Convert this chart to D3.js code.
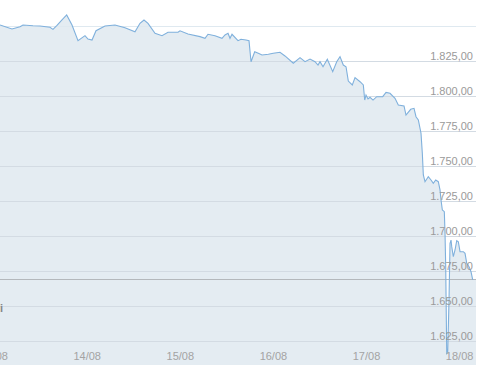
<!DOCTYPE html>
<html>
<head>
<meta charset="utf-8">
<script src="https://cdn.jsdelivr.net/npm/d3@7"></script>
<style>
  body { margin: 0; background: #fff; }
  svg { display: block; font-family: "Liberation Sans", Arial, sans-serif; }
</style>
</head>
<body>
<div id="chart"></div>
<script>
// hours since 13/08 00:00 and the price read at that hour
var hours = [1.65, 4.74, 6.81, 7.58, 10.16, 11.96, 14.54, 15.31, 16.34, 17.63, 18.84, 20.21, 21.76, 23.56, 24.33, 25.37,
  26.40, 28.72, 31.30, 33.87, 36.45, 37.74, 38.77, 39.80, 41.61, 43.41, 44.96, 47.54, 48.05, 50.11, 53.21, 54.50,
  55.27, 57.07, 58.88, 59.65, 60.43, 60.94, 61.46, 63.00, 63.78, 65.07, 65.84, 66.36, 67.31, 68.24, 69.19, 70.82,
  72.10, 73.83, 75.12, 77.26, 78.99, 80.28, 81.57, 82.86, 83.63, 84.14, 84.92, 86.03, 87.42, 88.45, 89.30, 90.15,
  90.85, 91.44, 92.47, 93.17, 94.46, 95.31, 95.67, 96.00, 96.52, 97.03, 97.81, 98.76, 100.31, 101.16, 102.19, 103.48,
  104.33, 105.80, 106.31, 107.52, 108.38, 108.89, 109.49, 110.18, 110.52, 110.78, 111.21, 112.06, 112.76, 113.35, 113.97, 114.64,
  115.08, 115.34, 115.68, 116.19, 116.37, 116.55, 116.81, 117.07, 117.40, 117.66, 117.92, 118.10, 118.51, 118.95, 119.39, 119.80,
  120.24, 121.09, 121.53, 121.97, 122.56, 123.07, 123.51];
var prices = [1850.7, 1847.9, 1849.5, 1850.7, 1850.2, 1850.0, 1849.1, 1847.6, 1850.5, 1854.3, 1857.9, 1850.7, 1839.5, 1843.1, 1840.7, 1840.0,
  1846.6, 1850.0, 1850.7, 1848.8, 1845.9, 1851.9, 1854.3, 1851.9, 1844.8, 1843.1, 1845.5, 1845.5, 1846.6, 1844.3, 1842.4, 1841.2,
  1844.1, 1843.1, 1841.2, 1843.6, 1844.8, 1841.2, 1844.1, 1839.5, 1840.5, 1840.0, 1839.5, 1824.5, 1831.6, 1830.5, 1829.3, 1829.8,
  1830.5, 1831.2, 1828.6, 1823.4, 1827.4, 1824.5, 1826.4, 1824.5, 1822.1, 1824.5, 1820.9, 1826.2, 1817.4, 1824.5, 1828.1, 1822.1,
  1820.9, 1810.7, 1807.9, 1813.1, 1810.2, 1807.9, 1797.1, 1800.7, 1797.9, 1799.1, 1797.1, 1799.5, 1799.5, 1802.6, 1801.9, 1798.4,
  1793.6, 1792.9, 1786.4, 1790.5, 1791.2, 1785.2, 1782.9, 1773.4, 1759.1, 1743.6, 1738.8, 1742.4, 1740.0, 1737.6, 1740.0, 1738.8,
  1732.9, 1725.7, 1718.6, 1717.4, 1701.9, 1678.1, 1616.2, 1617.4, 1654.3, 1694.8, 1697.1, 1692.4, 1685.2, 1690.0, 1696.6, 1695.9,
  1688.8, 1688.8, 1687.6, 1680.5, 1678.1, 1674.5, 1668.6];

var dayLabels = ["13/08", "14/08", "15/08", "16/08", "17/08", "18/08"];
var priceTicks = [1625, 1650, 1675, 1700, 1725, 1750, 1775, 1800, 1825];
var gridValues = [1625, 1650, 1675, 1700, 1725, 1750, 1775, 1800, 1825, 1850];

var width = 490, height = 377;
var plotRight = 476, plotTop = 26, plotBottom = 365;

var start = new Date(2021, 7, 13);
function hourToDate(h) { return new Date(start.getTime() + h * 3600000); }

var data = hours.map(function(h, i) { return {date: hourToDate(h), price: prices[i]}; });
var dayDates = dayLabels.map(function(d, i) { return hourToDate(24 * i); });

var x = d3.scaleTime()
  .domain([dayDates[0], dayDates[5]])
  .range([-6.4, 459.1]);

var y = d3.scaleLinear()
  .domain([1850 - (plotBottom - plotTop) / 1.4, 1850])
  .range([plotBottom, plotTop]);

var locale = d3.formatLocale({decimal: ",", thousands: ".", grouping: [3], currency: ["", ""]});
var fmt = locale.format(",.2f");

var svg = d3.select("#chart").append("svg")
  .attr("width", width)
  .attr("height", height);

// area under the line
var area = d3.area()
  .x(function(d) { return x(d.date); })
  .y0(plotBottom)
  .y1(function(d) { return y(d.price); });

var areaData = data.concat([{date: x.invert(plotRight), price: prices[prices.length - 1]}]);
areaData.unshift({date: x.invert(0), price: prices[0]});

svg.append("path")
  .datum(areaData)
  .attr("fill", "#e4ecf2")
  .attr("d", area);

// gridlines
svg.append("g")
  .selectAll("line")
  .data(gridValues)
  .enter().append("line")
  .attr("x1", 0)
  .attr("x2", plotRight)
  .attr("y1", function(d) { return Math.round(y(d)) + 0.5; })
  .attr("y2", function(d) { return Math.round(y(d)) + 0.5; })
  .attr("stroke", function(d) { return d == 1850 ? "#dfe9f0" : "#d3dbe3"; })
  .attr("stroke-width", 1);

// last price line
var last = prices[prices.length - 1];
svg.append("line")
  .attr("x1", 0)
  .attr("x2", plotRight)
  .attr("y1", Math.round(y(last)) - 0.5)
  .attr("y2", Math.round(y(last)) - 0.5)
  .attr("stroke", "#b4b8bc")
  .attr("stroke-width", 1);

svg.append("text")
  .attr("x", 3)
  .attr("y", 312)
  .attr("text-anchor", "end")
  .style("font-size", "11px")
  .style("font-weight", "bold")
  .style("fill", "#888")
  .text("i");

// price line
var line = d3.line()
  .x(function(d) { return x(d.date); })
  .y(function(d) { return y(d.price); });

svg.append("path")
  .datum(data)
  .attr("fill", "none")
  .attr("stroke", "#7fb0dc")
  .attr("stroke-width", 1.1)
  .attr("d", line);

// y axis labels on the right
var yAxis = d3.axisLeft(y)
  .tickValues(priceTicks)
  .tickSize(0)
  .tickPadding(0)
  .tickFormat(fmt);

var gy = svg.append("g")
  .attr("transform", "translate(473,0)")
  .call(yAxis);
gy.select(".domain").remove();
gy.selectAll("text")
  .attr("dy", null)
  .attr("y", -1.5)
  .style("font-size", "11px")
  .style("font-family", "'Liberation Sans', Arial, sans-serif")
  .style("fill", "#9a9a9a");

// x axis labels
var xAxis = d3.axisBottom(x)
  .tickValues(dayDates)
  .tickSize(0)
  .tickPadding(0)
  .tickFormat(function(d, i) { return dayLabels[i]; });

var gx = svg.append("g")
  .attr("transform", "translate(0,351)")
  .call(xAxis);
gx.select(".domain").remove();
gx.selectAll("text")
  .attr("dy", null)
  .attr("y", 9)
  .style("font-size", "11px")
  .style("font-family", "'Liberation Sans', Arial, sans-serif")
  .style("fill", "#a3a3a3");
</script>
</body>
</html>
